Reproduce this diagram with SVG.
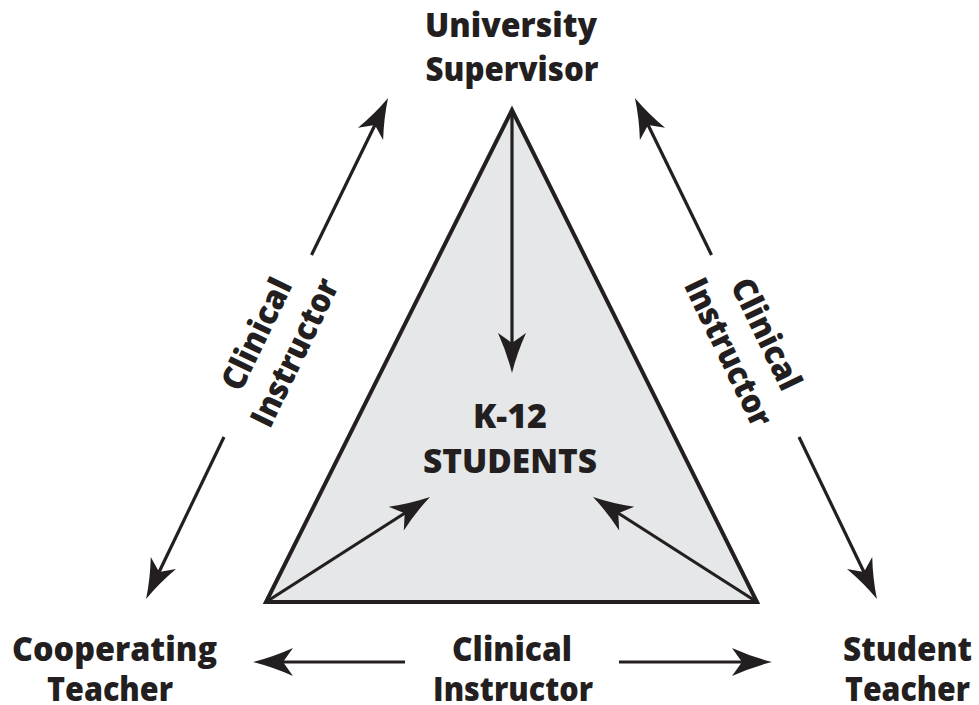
<svg xmlns="http://www.w3.org/2000/svg" width="979" height="705" viewBox="0 0 979 705">
<style>
.lbl{font-family:"Open Sans","Liberation Sans",sans-serif;font-weight:800;font-size:33px;fill:#231f20;text-anchor:middle}
.ln{stroke:#231f20;stroke-width:3.2;fill:none}
</style>
<defs>
<marker id="ah" markerUnits="userSpaceOnUse" markerWidth="60" markerHeight="40" refX="0" refY="0" orient="auto" overflow="visible">
<path d="M25,0 Q5,-5 -15,-14 L-5,0 L-15,14 Q5,5 25,0Z" fill="#231f20"/>
</marker>
</defs>
<rect width="979" height="705" fill="#fff"/>
<g id="triangle">
<polygon points="512,110 266,602 757,602" fill="#e6e7e8" stroke="#231f20" stroke-width="4" stroke-linejoin="miter"/>
</g>
<g id="connectors">
<line class="ln" x1="311.5" y1="255" x2="377.1" y2="120.5" marker-end="url(#ah)"/>
<line class="ln" x1="224" y1="437" x2="156.9" y2="576.5" marker-end="url(#ah)"/>
<line class="ln" x1="711.5" y1="255" x2="645.9" y2="120.5" marker-end="url(#ah)"/>
<line class="ln" x1="799" y1="437" x2="866.1" y2="576.5" marker-end="url(#ah)"/>
<line class="ln" x1="512" y1="110" x2="512" y2="348" marker-end="url(#ah)"/>
<line class="ln" x1="266" y1="602" x2="408.9" y2="510.5" marker-end="url(#ah)"/>
<line class="ln" x1="757" y1="602" x2="614.1" y2="510.5" marker-end="url(#ah)"/>
<line class="ln" x1="405" y1="662" x2="278" y2="662" marker-end="url(#ah)"/>
<line class="ln" x1="619" y1="662" x2="747" y2="662" marker-end="url(#ah)"/>
</g>
<g id="university-supervisor">
<text class="lbl" x="511" y="37" textLength="172" lengthAdjust="spacingAndGlyphs">University</text>
<text class="lbl" x="512" y="81" textLength="173" lengthAdjust="spacingAndGlyphs">Supervisor</text>
</g>
<g id="k12-students">
<text class="lbl" x="510" y="428" textLength="74" lengthAdjust="spacingAndGlyphs">K-12</text>
<text class="lbl" x="510" y="473" textLength="174" lengthAdjust="spacingAndGlyphs">STUDENTS</text>
</g>
<g id="cooperating-teacher">
<text class="lbl" x="114.5" y="661" textLength="205" lengthAdjust="spacingAndGlyphs">Cooperating</text>
<text class="lbl" x="110" y="701" textLength="126" lengthAdjust="spacingAndGlyphs">Teacher</text>
</g>
<g id="student-teacher">
<text class="lbl" x="907.5" y="661" textLength="129" lengthAdjust="spacingAndGlyphs">Student</text>
<text class="lbl" x="907.5" y="701" textLength="125" lengthAdjust="spacingAndGlyphs">Teacher</text>
</g>
<g id="label-bottom">
<text class="lbl" x="512" y="661" textLength="120" lengthAdjust="spacingAndGlyphs">Clinical</text>
<text class="lbl" x="513" y="701" textLength="160" lengthAdjust="spacingAndGlyphs">Instructor</text>
</g>
<g id="label-left" transform="translate(275,343) rotate(-64.2)">
<text class="lbl" x="0" y="-9" textLength="120" lengthAdjust="spacingAndGlyphs">Clinical</text>
<text class="lbl" x="0" y="33" textLength="160" lengthAdjust="spacingAndGlyphs">Instructor</text>
</g>
<g id="label-right" transform="translate(748,343) rotate(64.2)">
<text class="lbl" x="0" y="-9" textLength="120" lengthAdjust="spacingAndGlyphs">Clinical</text>
<text class="lbl" x="0" y="33" textLength="160" lengthAdjust="spacingAndGlyphs">Instructor</text>
</g>
</svg>
